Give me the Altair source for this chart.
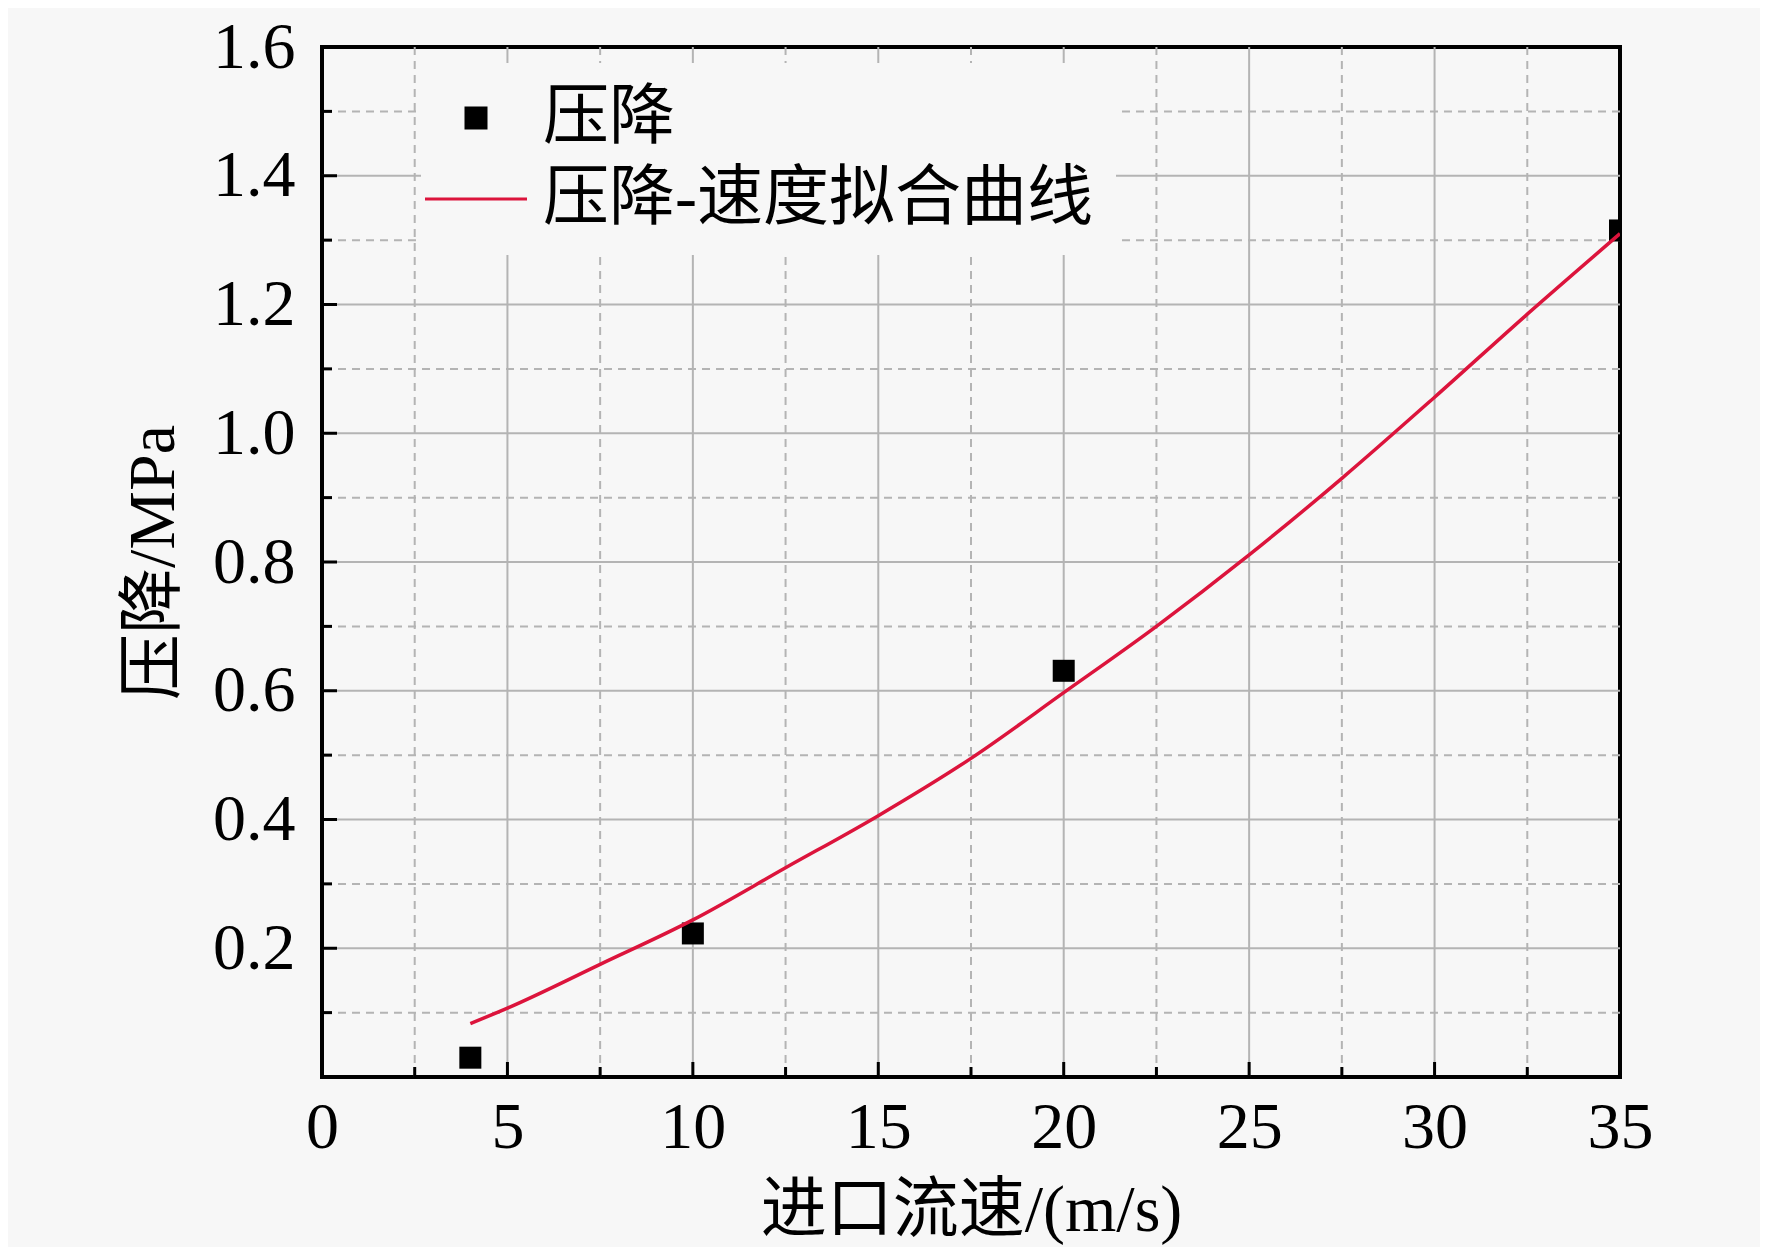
import altair as alt
import pandas as pd

# ---- data ----
speed_pts = [4, 10, 20, 35]
drop_pts = [0.030, 0.223, 0.631, 1.315]

fit_x = [4, 5, 7.5, 10, 12.5, 15, 17.5, 20, 22.5, 25, 27.5, 30, 32.5, 35]
fit_y = [0.083, 0.107, 0.175, 0.244, 0.325, 0.406, 0.495, 0.597, 0.700, 0.811, 0.930, 1.056, 1.185, 1.310]

x_major = [0, 5, 10, 15, 20, 25, 30, 35]
x_major_inner = [5, 10, 15, 20, 25, 30]
x_minor = [2.5, 7.5, 12.5, 17.5, 22.5, 27.5, 32.5]
y_major = [0.2, 0.4, 0.6, 0.8, 1.0, 1.2, 1.4, 1.6]
y_major_inner = [0.2, 0.4, 0.6, 0.8, 1.0, 1.2, 1.4]
y_minor = [0.1, 0.3, 0.5, 0.7, 0.9, 1.1, 1.3, 1.5]

series_names = ["压降", "压降-速度拟合曲线"]
series_colors = ["#000000", "#dc143c"]
series_shapes = ["square", "M-5.1,0H5.1"]

W, H = 1298, 1030
FONT = "Liberation Serif, Times New Roman, Noto Sans CJK SC"
BG = "#f7f7f7"
GRID = "#b4b4b4"

pts = pd.DataFrame({"v": speed_pts, "p": drop_pts, "series": series_names[0]})
fit = pd.DataFrame({"v": fit_x, "p": fit_y, "series": series_names[1]})

x_axis = alt.Axis(values=x_major, format="d", labelFontSize=66, labelFont=FONT,
                  labelColor="black", labelPadding=18, ticks=False, domain=False,
                  grid=False, labelFlush=False, labelOverlap=False,
                  title="进口流速/(m/s)", titleFontSize=66, titleFont=FONT,
                  titleFontWeight="normal", titleColor="black", titlePadding=18)
y_axis = alt.Axis(values=y_major, format=".1f", labelFontSize=66, labelFont=FONT,
                  labelColor="black", labelPadding=27, ticks=False, domain=False,
                  grid=False, labelFlush=False, labelOverlap=False,
                  title="压降/MPa", titleFontSize=66, titleFont=FONT,
                  titleFontWeight="normal", titleColor="black", titlePadding=25)

xs = alt.Scale(domain=[0, 35], nice=False, zero=False)
ys = alt.Scale(domain=[0, 1.6], nice=False, zero=False)

X = lambda f: alt.X(f, type="quantitative", scale=xs, axis=x_axis)
Y = lambda f: alt.Y(f, type="quantitative", scale=ys, axis=y_axis)

def vgrid(vals, dash=None):
    m = alt.Chart(pd.DataFrame({"g": vals})).mark_rule(
        color=GRID, strokeWidth=2, **({"strokeDash": dash} if dash else {}))
    return m.encode(x=X("g"))

def hgrid(vals, dash=None):
    m = alt.Chart(pd.DataFrame({"g": vals})).mark_rule(
        color=GRID, strokeWidth=2, **({"strokeDash": dash} if dash else {}))
    return m.encode(y=Y("g"))

def xticks(vals, length):
    return alt.Chart(pd.DataFrame({"g": vals})).mark_rule(color="black", strokeWidth=3).encode(
        x=X("g"), y=alt.value(H), y2=alt.value(H - length))

def yticks(vals, length):
    return alt.Chart(pd.DataFrame({"g": vals})).mark_rule(color="black", strokeWidth=3).encode(
        y=Y("g"), x=alt.value(0), x2=alt.value(length))

legend = alt.Legend(
    title=None, orient="none", legendX=99, legendY=16, padding=22,
    fillColor=BG, strokeColor=BG,
    labelFont=FONT, labelFontSize=66, labelColor="black", labelLimit=0,
    labelOffset=34, rowPadding=15, symbolSize=400, symbolStrokeWidth=3,
    symbolFillColor="#000000", symbolOpacity=1,
)

line = alt.Chart(fit).mark_line(strokeWidth=3.5, interpolate="monotone", clip=True).encode(
    x=X("v"), y=Y("p"),
    stroke=alt.Stroke("series:N", scale=alt.Scale(domain=series_names, range=series_colors),
                      legend=legend))
points = alt.Chart(pts).mark_point(filled=True, size=484, opacity=1, color="#000000",
                                   clip=True).encode(
    x=X("v"), y=Y("p"),
    shape=alt.Shape("series:N", scale=alt.Scale(domain=series_names, range=series_shapes),
                    legend=legend))

chart = alt.layer(
    vgrid(x_major_inner), vgrid(x_minor, [8, 6]),
    hgrid(y_major_inner), hgrid(y_minor, [8, 6]),
    xticks(x_major_inner, 15), xticks(x_minor, 10),
    yticks(y_major_inner, 15), yticks(y_minor, 10),
    points, line,
).properties(
    width=W, height=H,
    autosize=alt.AutoSizeParams(type="none"),
    padding={"left": 314, "top": 39, "right": 140, "bottom": 170},
    background=BG,
).configure_view(stroke="black", strokeWidth=4)

chart.save("out.html", embed_options={"renderer": "svg", "actions": False})
